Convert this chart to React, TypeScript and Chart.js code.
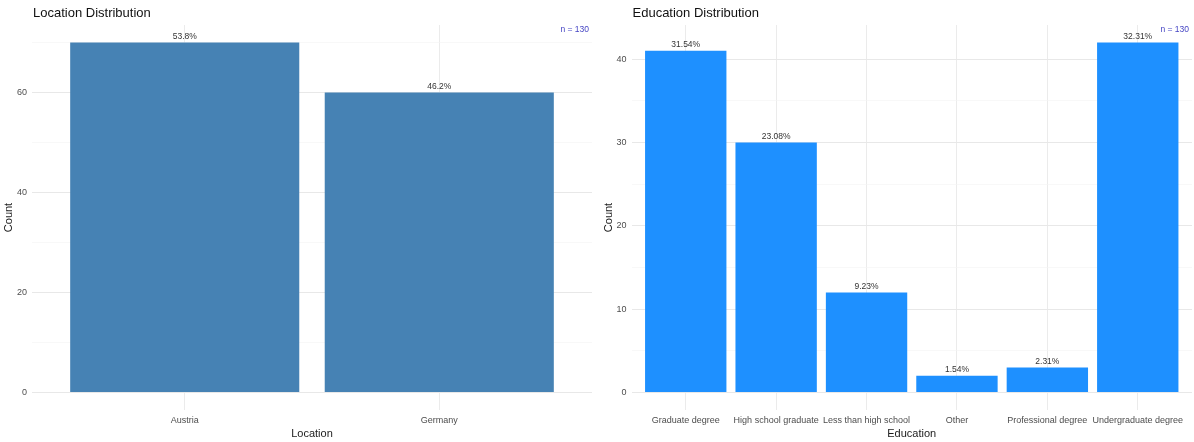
import React, { useEffect, useRef } from "react";
import { Chart, registerables } from "chart.js";

Chart.register(...registerables);

// ---- Data ----
const locationCategories = ["Austria", "Germany"];
const locationCounts = [70, 60];
const locationYTicks = [0, 10, 20, 30, 40, 50, 60, 70];
const locationYLabels = [0, 20, 40, 60];

const educationCategories = [
  "Graduate degree",
  "High school graduate",
  "Less than high school",
  "Other",
  "Professional degree",
  "Undergraduate degree",
];
const educationCounts = [41, 30, 12, 2, 3, 42];
const educationYTicks = [0, 5, 10, 15, 20, 25, 30, 35, 40];
const educationYLabels = [0, 10, 20, 30, 40];

const sampleSize = 130;

const FONT = '"Liberation Sans", Arial, Helvetica, sans-serif';

type PanelProps = {
  title: string;
  xTitle: string;
  categories: string[];
  counts: number[];
  color: string;
  yTicks: number[];
  yLabels: number[];
  decimals: number;
  width: number;
  left: number;
  padRight: number;
  yWidth: number;
};

function Panel(props: PanelProps) {
  const ref = useRef<HTMLCanvasElement | null>(null);

  useEffect(() => {
    const canvas = ref.current;
    if (!canvas) return;
    const {
      title,
      xTitle,
      categories,
      counts,
      color,
      yTicks,
      yLabels,
      decimals,
      padRight,
      yWidth,
    } = props;
    const n = categories.length;
    const maxVal = Math.max(...counts);
    const yMin = -0.05 * maxVal;
    const yMax = 1.05 * maxVal;

    const annotPlugin = {
      id: "annot",
      afterDatasetsDraw(chart: any) {
        const ctx = chart.ctx;
        const area = chart.chartArea;
        ctx.save();
        // bar labels
        ctx.font = `8.5px ${FONT}`;
        ctx.fillStyle = "#333333";
        ctx.textAlign = "center";
        ctx.textBaseline = "alphabetic";
        const meta = chart.getDatasetMeta(0);
        meta.data.forEach((bar: any, i: number) => {
          const pct = ((counts[i] / sampleSize) * 100).toFixed(decimals) + "%";
          ctx.fillText(pct, bar.x, bar.y - 3.5);
        });
        // n label
        ctx.font = `8.5px ${FONT}`;
        ctx.fillStyle = "#4545c4";
        ctx.textAlign = "right";
        ctx.fillText(`n = ${sampleSize}`, area.right - 3, area.top + 7);
        // title
        ctx.font = `13px ${FONT}`;
        ctx.fillStyle = "#111111";
        ctx.textAlign = "left";
        ctx.fillText(title, area.left + 1, 17);
        ctx.restore();
      },
    };

    const chart = new Chart(canvas, {
      type: "bar",
      data: {
        datasets: [
          {
            data: counts.map((v, i) => ({ x: i + 1, y: v })),
            backgroundColor: color,
            borderWidth: 0,
            barPercentage: 0.9,
            categoryPercentage: 1,
          },
        ],
      },
      options: {
        responsive: false,
        animation: false,
        layout: { padding: { top: 25, right: padRight, left: 0, bottom: 0 } },
        plugins: {
          legend: { display: false },
          tooltip: { enabled: false },
          title: { display: false },
        },
        scales: {
          x: {
            type: "linear",
            min: 0.4,
            max: n + 0.6,
            offset: false,
            afterBuildTicks: (s: any) => {
              s.ticks = categories.map((_, i) => ({ value: i + 1 }));
            },
            afterFit: (s: any) => {
              s.height = 32;
            },
            ticks: {
              callback: (v: any) => categories[Math.round(Number(v)) - 1] ?? "",
              autoSkip: false,
              maxRotation: 0,
              minRotation: 0,
              padding: 5,
              color: "#4d4d4d",
              font: { family: FONT, size: 9 },
            },
            grid: { color: "#ebebeb", lineWidth: 1, drawTicks: false, offset: false },
            border: { display: false },
            title: {
              display: true,
              text: xTitle,
              color: "#1a1a1a",
              font: { family: FONT, size: 11 },
              padding: { top: 0, bottom: 1.5 },
            },
          },
          y: {
            type: "linear",
            min: yMin,
            max: yMax,
            afterBuildTicks: (s: any) => {
              s.ticks = yTicks.map((v) => ({ value: v }));
            },
            afterFit: (s: any) => {
              s.width = yWidth;
            },
            ticks: {
              callback: (v: any) => (yLabels.includes(Number(v)) ? String(v) : ""),
              padding: 5,
              color: "#4d4d4d",
              font: { family: FONT, size: 9 },
            },
            grid: {
              color: (ctx: any) =>
                yLabels.includes(ctx.tick?.value) ? "#e8e8e8" : "#f3f3f3",
              lineWidth: (ctx: any) => (yLabels.includes(ctx.tick?.value) ? 1 : 0.6),
              drawTicks: false,
            },
            border: { display: false },
            title: {
              display: true,
              text: "Count",
              color: "#1a1a1a",
              font: { family: FONT, size: 11 },
              padding: { top: 2.5, bottom: 0 },
            },
          },
        },
      } as any,
      plugins: [annotPlugin],
    });

    return () => chart.destroy();
  }, []);

  return (
    <canvas
      ref={ref}
      width={props.width}
      height={442}
      style={{
        position: "absolute",
        left: props.left,
        top: 0,
        width: props.width,
        height: 442,
        display: "block",
      }}
    />
  );
}

export default function App() {
  return (
    <div
      style={{
        position: "fixed",
        left: 0,
        top: 0,
        width: 1194,
        height: 442,
        background: "#ffffff",
        overflow: "hidden",
      }}
    >
      <Panel
        title="Location Distribution"
        xTitle="Location"
        categories={locationCategories}
        counts={locationCounts}
        color="#4682B4"
        yTicks={locationYTicks}
        yLabels={locationYLabels}
        decimals={1}
        width={600}
        left={0}
        padRight={8}
        yWidth={32}
      />
      <Panel
        title="Education Distribution"
        xTitle="Education"
        categories={educationCategories}
        counts={educationCounts}
        color="#1E90FF"
        yTicks={educationYTicks}
        yLabels={educationYLabels}
        decimals={2}
        width={594}
        left={600}
        padRight={2}
        yWidth={31.5}
      />
    </div>
  );
}
